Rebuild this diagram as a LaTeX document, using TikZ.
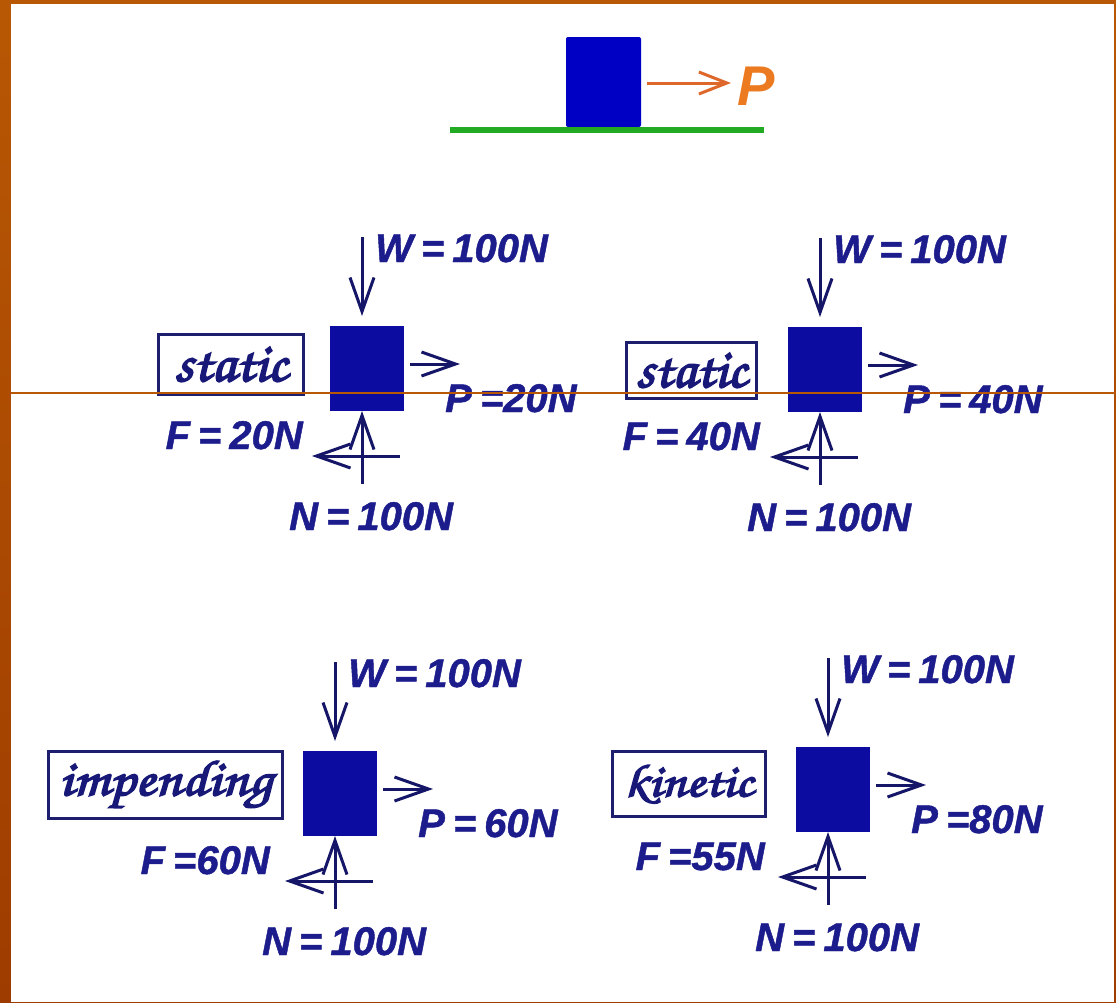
\documentclass[tikz,border=0pt]{standalone}
\usepackage{fontspec}
\setmainfont{Liberation Sans}
\usepackage{graphicx}
\usetikzlibrary{arrows.meta}
\definecolor{txtblue}{RGB}{28,28,140}
\definecolor{lbltxt}{RGB}{24,24,120}
\definecolor{arrblue}{RGB}{22,22,105}
\definecolor{blkblue}{RGB}{12,12,160}
\definecolor{topblue}{RGB}{0,0,196}
\definecolor{boxblue}{RGB}{30,30,110}
\definecolor{frameor}{RGB}{184,88,4}
\definecolor{frameordk}{RGB}{158,60,0}
\definecolor{porange}{RGB}{236,122,32}
\definecolor{parrow}{RGB}{222,104,44}
\definecolor{groundgreen}{RGB}{34,170,34}
\newcommand\scriptlab{\fontencoding{T1}\fontfamily{pzc}\fontseries{mb}\fontshape{it}\selectfont}
\newcommand\heavy[2]{\special{pdf:literal direct 2 Tr #1 w}#2\special{pdf:literal direct 0 Tr}}
\newcommand\forcefont{\fontsize{40}{40}\selectfont\bfseries\itshape}
\newcommand\fs{\hspace{0.2em}}
\tikzset{
  forcearrow/.style={draw=arrblue, line width=3pt,
    -{Straight Barb[length=34pt,width=24pt]}},
  forcetxt/.style={text=txtblue, inner sep=0pt, font=\forcefont},
  blk/.style={fill=blkblue, minimum width=74pt, minimum height=85pt, inner sep=0pt},
  lbox/.style={draw=boxblue, line width=3pt, fill=white, text=lbltxt, inner sep=0pt},
}
% id, bx, by, P text, F text, F right offset
\newcommand\fbd[6]{%
  \node[blk] (b#1) at (#2+37,#3+42.5) {};
  \coordinate (ws#1) at (#2+32,#3-89);
  \coordinate (we#1) at (#2+32,#3-10);
  \draw[forcearrow] (ws#1) -- (we#1);
  \node[forcetxt, anchor=base west] (W#1) at (#2+45,#3-64) {\heavy{0.45}{W\fs=\fs100N}};
  \coordinate (ps#1) at (#2+80,#3+38);
  \coordinate (pe#1) at (#2+130,#3+38);
  \draw[forcearrow] (ps#1) -- (pe#1);
  \node[forcetxt, anchor=base west] (P#1) at (#2+115,#3+86) {\heavy{0.45}{#4}};
  \coordinate (fs#1) at (#2+70,#3+130);
  \coordinate (fe#1) at (#2-18,#3+130);
  \draw[forcearrow] (fs#1) -- (fe#1);
  \node[forcetxt, anchor=base east] (F#1) at (#2#6,#3+123) {\heavy{0.45}{#5}};
  \coordinate (ns#1) at (#2+32,#3+158);
  \coordinate (ne#1) at (#2+32,#3+85);
  \draw[forcearrow] (ns#1) -- (ne#1);
  \node[forcetxt, anchor=base west] (N#1) at (#2-41,#3+204) {\heavy{0.45}{N\fs=\fs100N}};
}
\begin{document}
\begin{tikzpicture}[x=1pt,y=-1pt]
\useasboundingbox (0,0) rectangle (1116,1002);
% frame
\shade[top color=frameor, bottom color=frameordk] (0,0) rectangle (1116,1002);
\fill[white] (11,4) rectangle (1114,1002);
% top sketch
\node[fill=topblue, rounded corners=2pt, minimum width=75pt, minimum height=90pt, inner sep=0pt] (topblk) at (603.5,82) {};
\coordinate (gl) at (450,129.5);
\coordinate (gr) at (764,129.5);
\draw[groundgreen, line width=6pt] (gl) -- (gr);
\coordinate (tas) at (647,83);
\coordinate (tae) at (731,83);
\draw[draw=parrow, line width=3pt, -{Straight Barb[length=28pt,width=22pt]}] (tas) -- (tae);
\node[text=porange, inner sep=0pt, anchor=base west, font=\fontsize{56}{56}\selectfont\bfseries\itshape] (topP) at (737,105) {P};
% panels
\fbd{1}{330}{326}{P\fs=20N}{F\fs=\fs20N}{-27}
\fbd{2}{788}{327}{P\fs=\fs40N}{F\fs=\fs40N}{-28}
\fbd{3}{303}{751}{P\fs=\fs60N}{F\fs=60N}{-33}
\fbd{4}{796}{747}{P\fs=80N}{F\fs=55N}{-31}
% labels
\node[lbox, minimum width=145pt, minimum height=60pt] (l1) at (231,364.5) {\resizebox{113pt}{34pt}{\scriptlab\heavy{0.3}{static}}};
\node[lbox, minimum width=130pt, minimum height=56pt] (l2) at (691.5,370.5) {\resizebox{111pt}{34pt}{\scriptlab\heavy{0.3}{static}}};
\node[lbox, minimum width=234pt, minimum height=67pt] (l3) at (165.5,785) {\resizebox{213pt}{36pt}{\scriptlab\heavy{0.3}{impending}}};
\node[lbox, minimum width=153pt, minimum height=65pt] (l4) at (689,784) {\resizebox{129pt}{33pt}{\scriptlab\heavy{0.3}{kinetic}}};
% thin line across
\coordinate (hl) at (11,393);
\coordinate (hr) at (1116,393);
\draw[frameor, line width=1.3pt] (hl) -- (hr);
\end{tikzpicture}
\end{document}
